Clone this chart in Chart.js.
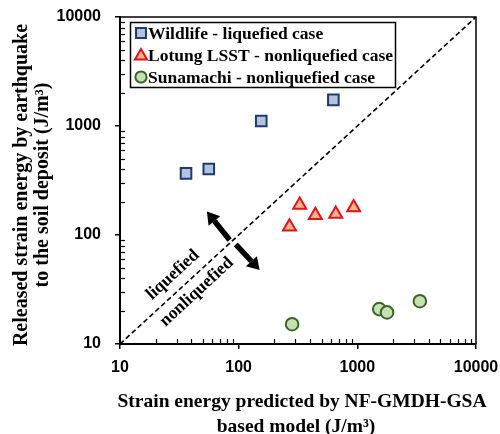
<!DOCTYPE html>
<html><head><meta charset="utf-8">
<style>html,body{margin:0;padding:0;background:#fff}#wrap{width:500px;height:434px}</style>
<script src="https://cdn.jsdelivr.net/npm/chart.js@4.4.0/dist/chart.umd.min.js"></script>
</head><body><div id="wrap"><canvas id="c" width="500" height="434"></canvas></div>
<script>
// ---- data ----
const wildlifeX = [36, 56, 155, 628];
const wildlifeY = [368, 403, 1110, 1735];
const lotungX = [268, 327, 443, 658, 931];
const lotungY = [119, 188, 152, 156, 179];
const sunaX = [282, 1530, 1780, 3365];
const sunaY = [15.2, 20.9, 19.5, 24.7];
const oneToOne = [10, 10000];
const axisTicks = [10, 100, 1000, 10000];
const seriesNames = ['Wildlife - liquefied case', 'Lotung LSST - nonliquefied case', 'Sunamachi - nonliquefied case'];
const xTitle = ['Strain energy predicted by NF-GMDH-GSA', 'based model (J/m\u00B3)'];
const yTitle = ['Released strain energy by earthquake', 'to the soil deposit (J/m\u00B3)'];
const zoneLabels = ['liquefied', 'nonliquefied'];
// arrows in data units: [tailX, tailY, tipX, tipY]
const arrows = [[84, 90, 54, 164], [94.5, 82, 150, 47.7]];
const zoneLabelPos = [[27.9, 43], [44.4, 30]];

const SERIF = '"Liberation Serif","Times New Roman",serif';
const SANS = '"Liberation Sans",Arial,sans-serif';
const styles = [
  {style: 'rect', r: 7.5, fill: '#B4C2DA', border: '#1F3A73'},
  {style: 'triangle', r: 7.5, fill: '#F7B48A', border: '#E0151B'},
  {style: 'circle', r: 6.3, fill: '#C5E0B3', border: '#3B6428'}
];
const pts = (xs, ys) => xs.map((x, i) => ({x: x, y: ys[i]}));
const seriesData = [pts(wildlifeX, wildlifeY), pts(lotungX, lotungY), pts(sunaX, sunaY)];

const datasets = seriesData.map((d, i) => ({
  label: seriesNames[i], data: d, showLine: false,
  pointStyle: styles[i].style, pointRadius: styles[i].r, pointHoverRadius: styles[i].r,
  backgroundColor: styles[i].fill, borderColor: styles[i].border, borderWidth: 2
}));
datasets.unshift({
  label: '1:1', type: 'line', data: pts(oneToOne, oneToOne), borderColor: '#000',
  borderWidth: 1.6, borderDash: [5, 3], pointRadius: 0, fill: false
});

function drawArrow(ctx, x1, y1, x2, y2) {
  const ang = Math.atan2(y2 - y1, x2 - x1);
  const hl = 12, hw = 7.5;
  const bx = x2 - hl * Math.cos(ang), by = y2 - hl * Math.sin(ang);
  ctx.beginPath(); ctx.moveTo(x1, y1); ctx.lineTo(bx, by);
  ctx.lineWidth = 5.5; ctx.lineCap = 'butt'; ctx.strokeStyle = '#000'; ctx.stroke();
  ctx.beginPath(); ctx.moveTo(x2, y2);
  ctx.lineTo(bx + hw * Math.sin(ang), by - hw * Math.cos(ang));
  ctx.lineTo(bx - hw * Math.sin(ang), by + hw * Math.cos(ang));
  ctx.closePath(); ctx.fillStyle = '#000'; ctx.fill();
}

const deco = {
  id: 'deco',
  afterDraw(chart) {
    const ctx = chart.ctx, a = chart.chartArea;
    const xs = chart.scales.x, ys = chart.scales.y;
    ctx.save();
    // frame top & right
    ctx.strokeStyle = '#000'; ctx.lineWidth = 1.5;
    ctx.beginPath(); ctx.moveTo(a.left, a.top); ctx.lineTo(a.right, a.top); ctx.lineTo(a.right, a.bottom); ctx.stroke();
    // minor ticks inside
    ctx.lineWidth = 1.2;
    for (let d = 10; d < 10000; d *= 10) {
      for (let m = 2; m <= 9; m++) {
        const v = d * m;
        const px = Math.round(xs.getPixelForValue(v)) + 0.5;
        ctx.beginPath(); ctx.moveTo(px, a.bottom); ctx.lineTo(px, a.bottom - 5); ctx.stroke();
        const py = Math.round(ys.getPixelForValue(v)) + 0.5;
        ctx.beginPath(); ctx.moveTo(a.left, py); ctx.lineTo(a.left + 5, py); ctx.stroke();
      }
    }
    // arrows
    arrows.forEach(r => drawArrow(ctx, xs.getPixelForValue(r[0]), ys.getPixelForValue(r[1]), xs.getPixelForValue(r[2]), ys.getPixelForValue(r[3])));
    // zone labels
    const ang = Math.atan2(ys.getPixelForValue(10000) - ys.getPixelForValue(10), xs.getPixelForValue(10000) - xs.getPixelForValue(10));
    ctx.fillStyle = '#000'; ctx.font = 'bold 17.5px ' + SERIF; ctx.textAlign = 'center'; ctx.textBaseline = 'middle';
    zoneLabels.forEach((t, i) => {
      ctx.save();
      ctx.translate(xs.getPixelForValue(zoneLabelPos[i][0]), ys.getPixelForValue(zoneLabelPos[i][1]));
      ctx.rotate(ang); ctx.fillText(t, 0, 0); ctx.restore();
    });
    // legend
    ctx.lineWidth = 1.5; ctx.strokeStyle = '#000';
    ctx.strokeRect(130.5, 22.5, 265, 65);
    const rowY = [33, 55, 77];
    seriesNames.forEach((n, i) => {
      const s = styles[i];
      ctx.fillStyle = s.fill; ctx.strokeStyle = s.border; ctx.lineWidth = 2;
      Chart.helpers.drawPoint(ctx, {pointStyle: s.style, radius: s.style === 'circle' ? 5.6 : 7, borderWidth: 2}, 141, rowY[i] + (s.style === 'triangle' ? 1 : 0));
      ctx.fillStyle = '#000'; ctx.font = 'bold 17.5px ' + SERIF; ctx.textAlign = 'left'; ctx.textBaseline = 'middle';
      ctx.fillText(n, 148, rowY[i] + 1);
    });
    // axis titles
    ctx.fillStyle = '#000'; ctx.font = 'bold 19.5px ' + SERIF; ctx.textAlign = 'center'; ctx.textBaseline = 'middle';
    const xt = [[302, 402], [296, 427]];
    xTitle.forEach((t, i) => ctx.fillText(t, xt[i][0], xt[i][1]));
    ctx.font = 'bold 20px ' + SERIF;
    const yt = [[22, 185], [43, 185]];
    yTitle.forEach((t, i) => { ctx.save(); ctx.translate(yt[i][0], yt[i][1]); ctx.rotate(-Math.PI / 2); ctx.fillText(t, 0, 0); ctx.restore(); });
    ctx.restore();
  }
};

const axisCommon = (pad) => ({
  type: 'logarithmic', min: 10, max: 10000,
  afterBuildTicks: s => { s.ticks = axisTicks.map(v => ({value: v, major: true})); },
  ticks: {callback: v => String(v), color: '#000', font: {family: SANS, weight: 'bold', size: 16}, padding: pad, autoSkip: false, maxRotation: 0},
  grid: {display: true, drawOnChartArea: false, drawTicks: true, tickLength: 5, color: '#000', lineWidth: 1.5},
  border: {display: true, color: '#000', width: 2},
  title: {display: false}
});
const xAxis = axisCommon(9);
xAxis.afterFit = s => { s.height = 90; s.paddingLeft = 0; s.paddingRight = 0; s.paddingTop = 0; s.paddingBottom = 0; };
const yAxis = axisCommon(14);
yAxis.afterFit = s => { s.width = 120; s.paddingLeft = 0; s.paddingRight = 0; s.paddingTop = 0; s.paddingBottom = 0; };

new Chart(document.getElementById('c'), {
  type: 'scatter',
  data: {datasets: datasets},
  options: {
    responsive: false, animation: false, devicePixelRatio: 1,
    layout: {padding: {top: 17, right: 24, left: 0, bottom: 0}},
    plugins: {legend: {display: false}, tooltip: {enabled: false}},
    scales: {x: xAxis, y: yAxis}
  },
  plugins: [deco]
});
</script></body></html>
